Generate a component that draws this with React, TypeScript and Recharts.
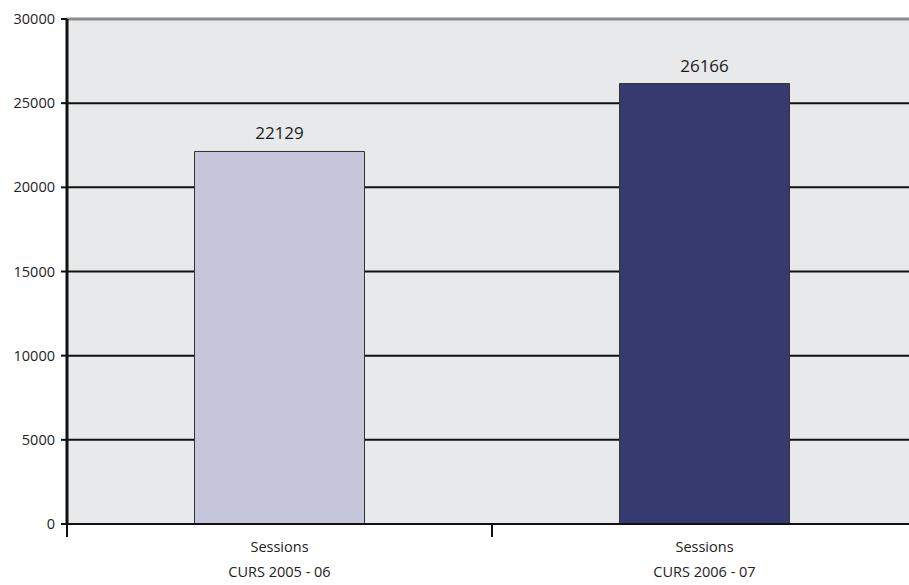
import React from 'react';
import { BarChart, Bar, XAxis, YAxis, CartesianGrid, ReferenceLine, LabelList, Cell } from 'recharts';

const categories = ['CURS 2005 - 06', 'CURS 2006 - 07'];
const seriesName = 'Sessions';
const sessions = [22129, 26166];
const yTicks = [0, 5000, 10000, 15000, 20000, 25000, 30000];
const barColors = ['#c5c6dc', '#363a6e'];

const FONT = '"Open Sans", sans-serif';

// category label in two lines, with tick marks at the band edges
const CategoryTick = (props: any) => {
  const { x, y, payload, index, visibleTicksCount } = props;
  const half = payload.offset || 0;
  const isLast = index === visibleTicksCount - 1;
  return (
    <g>
      <line x1={x - half} x2={x - half} y1={y - 9} y2={y + 5} stroke="#111" strokeWidth={2} />
      {isLast && <line x1={x + half} x2={x + half} y1={y - 9} y2={y + 5} stroke="#111" strokeWidth={2} />}
      <text x={x} y={y + 20} textAnchor="middle" fontFamily={FONT} fontSize={14.5} fill="#222">
        {seriesName}
      </text>
      <text x={x} y={y + 45} textAnchor="middle" fontFamily={FONT} fontSize={14.5} fill="#222">
        {payload.value}
      </text>
    </g>
  );
};

const App: React.FC = () => {
  const data = categories.map((cat, i) => ({ cat, value: sessions[i] }));

  return (
    <div style={{ position: 'absolute', left: 0, top: 0, width: 909, height: 585, overflow: 'hidden', background: '#fff' }}>
      <BarChart
        width={925}
        height={585}
        data={data}
        margin={{ top: 19, right: 8, left: 0, bottom: 0 }}
        barCategoryGap="30%"
      >
        <CartesianGrid
          vertical={false}
          horizontalValues={[5000, 10000, 15000, 20000, 25000]}
          stroke="#111"
          strokeWidth={2}
          fill="#e8e9eb"
        />
        <ReferenceLine y={30000} stroke="#8c8c8c" strokeWidth={3} />
        <XAxis
          dataKey="cat"
          height={61}
          tick={<CategoryTick />}
          tickLine={false}
          axisLine={{ stroke: '#111', strokeWidth: 2 }}
          interval={0}
        />
        <YAxis
          width={67}
          domain={[0, 30000]}
          ticks={yTicks}
          interval={0}
          tickSize={6}
          tickMargin={6}
          tickLine={{ stroke: '#111', strokeWidth: 2 }}
          axisLine={{ stroke: '#111', strokeWidth: 3 }}
          tick={{ fontFamily: FONT, fontSize: 14.5, fill: '#222' }}
        />
        <Bar dataKey="value" stroke="#333" strokeWidth={1} isAnimationActive={false}>
          {data.map((d, i) => (
            <Cell key={d.cat} fill={barColors[i % barColors.length]} />
          ))}
          <LabelList dataKey="value" position="top" offset={12} fontFamily={FONT} fontSize={17} fill="#1a1a1a" />
        </Bar>
      </BarChart>
    </div>
  );
};

export default App;
